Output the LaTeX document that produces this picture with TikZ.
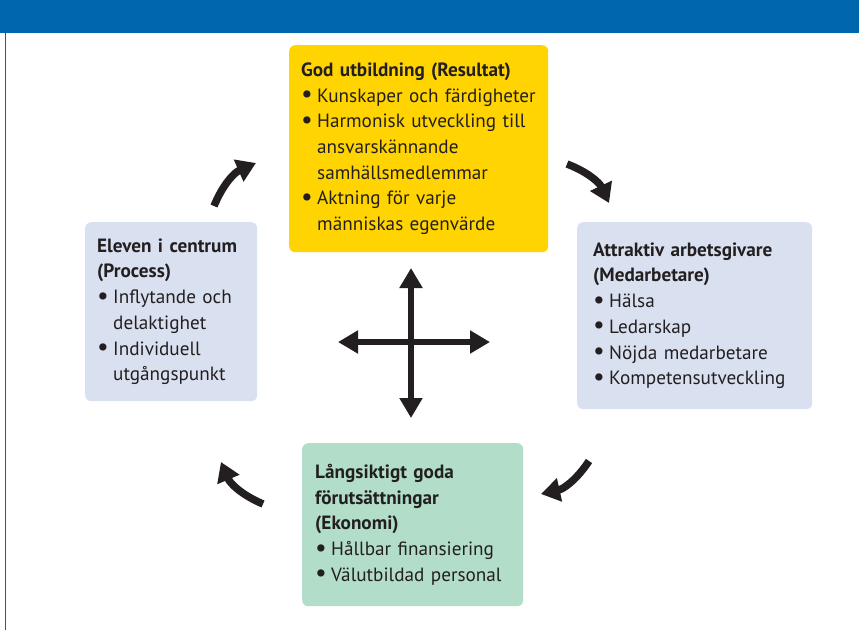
\documentclass[tikz,border=0pt]{standalone}
\usepackage{fontspec}
\setmainfont{PT Sans}
\usetikzlibrary{arrows.meta}

\definecolor{bannerblue}{RGB}{0,102,174}
\definecolor{goldyellow}{RGB}{255,212,0}
\definecolor{paleblue}{RGB}{217,225,240}
\definecolor{palegreen}{RGB}{178,221,200}
\definecolor{inkblack}{RGB}{35,31,32}

\setlength{\parindent}{0pt}
\newcommand{\pkt}{\par\setlength{\hangindent}{16pt}\hangafter=1\relax
  \makebox[16pt][l]{\raisebox{-0.03em}{\scalebox{1.35}{\textbullet}}}}

\tikzset{
  box/.style={shape=rectangle, rounded corners=6pt, anchor=north west, align=left,
    text=inkblack, inner ysep=0pt,
    font=\fontsize{19.2}{25.7}\selectfont},
  curvearrow/.style={draw=inkblack, line width=7.5pt, -{Triangle[width=23pt,length=19pt]}},
  crossarrow/.style={draw=inkblack, line width=6pt, {Triangle[width=22pt,length=20pt]}-{Triangle[width=22pt,length=20pt]}},
}

\begin{document}
\begin{tikzpicture}[x=1pt, y=1pt]
\useasboundingbox (0,0) rectangle (859,-630);
\fill[bannerblue] (0,0) rectangle (859,-33);
\draw[bannerblue, line width=1pt] (5,-33) -- (5,-630);

\node[box, fill=goldyellow, minimum width=259pt, minimum height=207pt, inner xsep=12pt, text width=235pt] (resultat) at (289,-45)
  {\textbf{God utbildning (Resultat)}
   \pkt Kunskaper och färdigheter
   \pkt Harmonisk utveckling till\break ansvarskännande\break samhällsmedlemmar
   \pkt Aktning för varje\break människas egenvärde\par};
\node[box, fill=paleblue, minimum width=172pt, minimum height=179pt, inner xsep=12pt, text width=148pt] (process) at (85,-222)
  {\textbf{Eleven i centrum\break (Process)}
   \pkt Inflytande och\break delaktighet
   \pkt Individuell\break utgångspunkt\par};
\node[box, fill=paleblue, minimum width=235pt, minimum height=187pt, inner xsep=16pt, text width=203pt] (medarb) at (577,-222)
  {\textbf{Attraktiv arbetsgivare\break (Medarbetare)}
   \pkt Hälsa
   \pkt Ledarskap
   \pkt Nöjda medarbetare
   \pkt Kompetensutveckling\par};
\node[box, fill=palegreen, minimum width=221pt, minimum height=163pt, inner xsep=13pt, text width=195pt] (ekonomi) at (302,-443)
  {\textbf{Långsiktigt goda\break förutsättningar\break (Ekonomi)}
   \pkt Hållbar finansiering
   \pkt Välutbildad personal\par};

% curved arrows between the boxes
\coordinate (tlS) at (214,-206);
\coordinate (tlE) at (256,-163);
\coordinate (trS) at (567,-164);
\coordinate (trE) at (609,-203);
\coordinate (brS) at (589,-461);
\coordinate (brE) at (541,-494);
\coordinate (blS) at (263,-504);
\coordinate (blE) at (221,-462);
\draw[curvearrow] (tlS) to[bend left=22] (tlE);
\draw[curvearrow] (trS) to[bend left=22] (trE);
\draw[curvearrow] (brS) to[bend left=22] (brE);
\draw[curvearrow] (blS) to[bend left=22] (blE);

% cross in the middle
\coordinate (nTip) at (411,-268);
\coordinate (sTip) at (411,-418);
\coordinate (wTip) at (338,-342);
\coordinate (eTip) at (490,-342);
\draw[crossarrow] (nTip) -- (sTip);
\draw[crossarrow] (wTip) -- (eTip);
\end{tikzpicture}
\end{document}
